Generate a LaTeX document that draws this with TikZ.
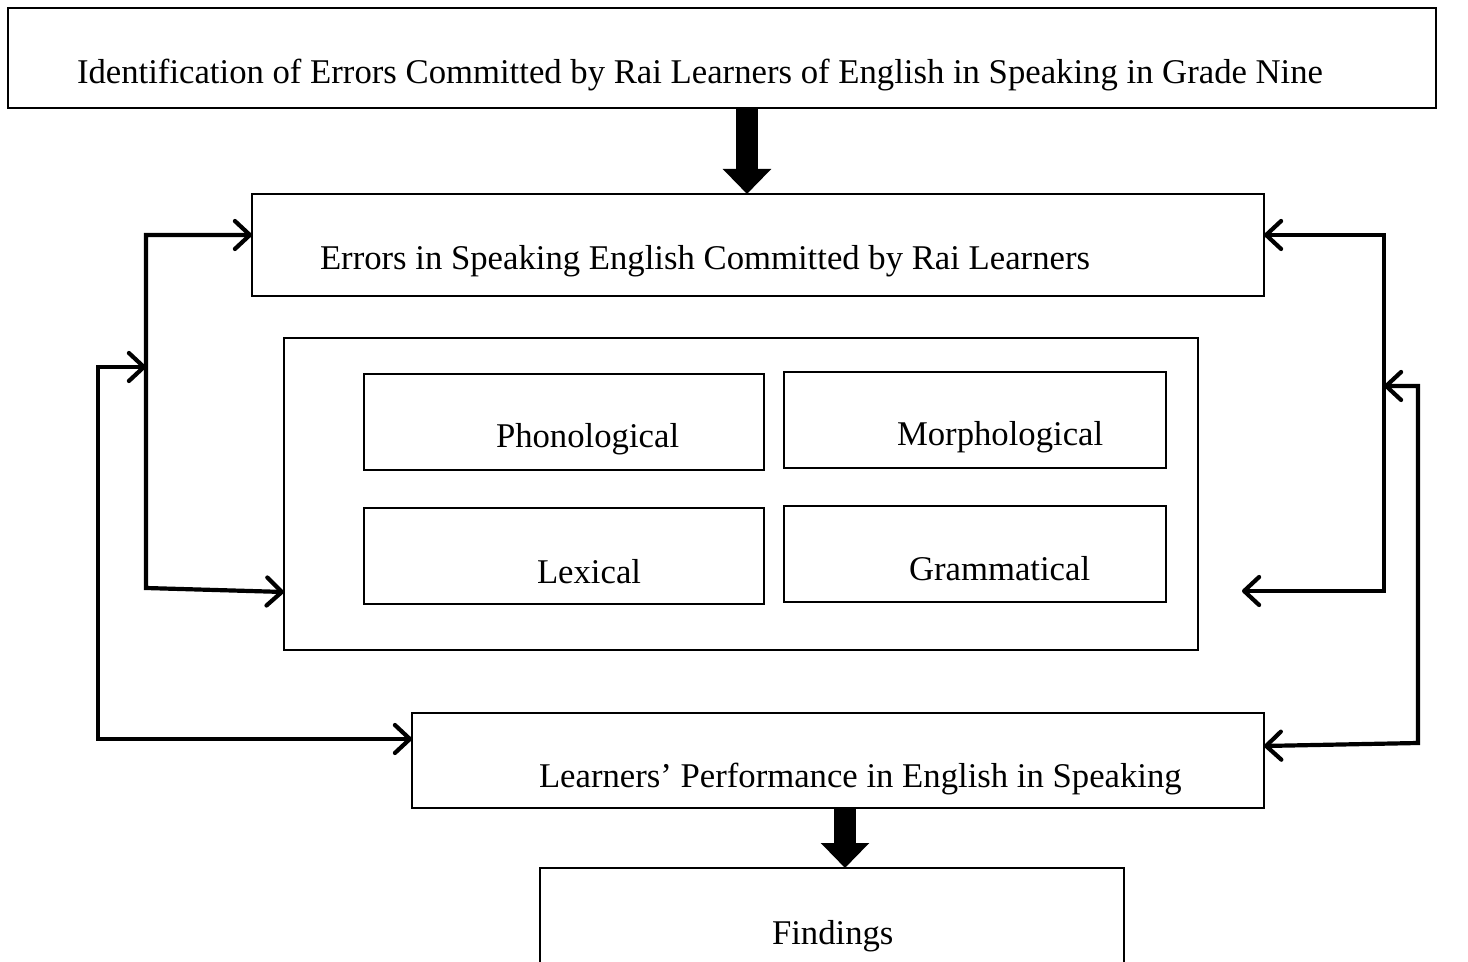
\documentclass[tikz,border=0pt]{standalone}
\usepackage{fontspec}
\setmainfont{Liberation Serif}
\usetikzlibrary{arrows.meta,calc}
\tikzset{
  boxst/.style={draw, line width=0.8pt, rectangle, inner sep=0pt, outer sep=0pt},
  lbl/.style={inner sep=0pt, outer sep=0pt, anchor=base west, font=\fontsize{17.35}{20}\selectfont},
  conn/.style={line width=2.1pt, line join=miter, {Straight Barb[length=7.5pt,width=14pt,round]}-{Straight Barb[length=7.5pt,width=14pt,round]}},
  bigarrow/.style={line width=11pt, -{Triangle[length=12.5pt,width=23.5pt]}}
}
\begin{document}
\begin{tikzpicture}[x=0.5pt,y=-0.5pt]
\useasboundingbox (0,0) rectangle (1468,962);
\clip (0,0) rectangle (1468,962);
% boxes
\node[boxst, minimum width=714pt, minimum height=50pt] (top) at (722,58) {};
\node[boxst, minimum width=506pt, minimum height=51pt] (errs) at (758,245) {};
\node[boxst, minimum width=457pt, minimum height=156pt] (big) at (741,494) {};
\node[boxst, minimum width=200pt, minimum height=48pt] (phon) at (564,422) {};
\node[boxst, minimum width=191pt, minimum height=48pt] (morph) at (975,420) {};
\node[boxst, minimum width=200pt, minimum height=48pt] (lex) at (564,556) {};
\node[boxst, minimum width=191pt, minimum height=48pt] (gram) at (975,554) {};
\node[boxst, minimum width=426pt, minimum height=47.5pt] (learn) at (838,760.5) {};
\node[boxst, minimum width=292pt, minimum height=61pt] (find) at (832,929) {};
% texts
\node[lbl] (ttop) at (77,84) {Identification of Errors Committed by Rai Learners of English in Speaking in Grade Nine};
\node[lbl] (terrs) at (320,270) {Errors in Speaking English Committed by Rai Learners};
\node[lbl] (tphon) at (496,448) {Phonological};
\node[lbl] (tmorph) at (897,446) {Morphological};
\node[lbl] (tlex) at (537,583) {Lexical};
\node[lbl] (tgram) at (909,581) {Grammatical};
\node[lbl] (tlearn) at (539,787) {Learners’ Performance in English in Speaking};
\node[lbl] (tfind) at (772,944) {Findings};
% block arrows
\coordinate (a1) at (747,0);
\coordinate (a2) at (845,0);
\draw[bigarrow] (a1 |- top.south) -- (a1 |- errs.north);
\draw[bigarrow] (a2 |- learn.south) -- (a2 |- find.north);
% connector corners
\coordinate (LiT) at (146,235);
\coordinate (LiB) at (146,588);
\coordinate (LoT) at (98,367);
\coordinate (LoB) at (98,739);
\coordinate (RiT) at (1384,235);
\coordinate (RiB) at (1384,591);
\coordinate (RiE) at (1242,591);
\coordinate (RoT) at (1418,386);
\coordinate (RoB) at (1418,743);
% left connectors
\draw[conn] ($(LiB -| big.west)+(0,4)$) -- (LiB) -- (LiT) -- (LiT -| errs.west);
\draw[conn] (LoB -| learn.west) -- (LoB) -- (LoT) -- (LoT -| LiT);
% right connectors
\draw[conn] (RiE) -- (RiB) -- (RiT) -- (RiT -| errs.east);
\draw[conn] ($(RoB -| learn.east)+(0,3)$) -- (RoB) -- (RoT) -- (RoT -| RiT);
\end{tikzpicture}
\end{document}
